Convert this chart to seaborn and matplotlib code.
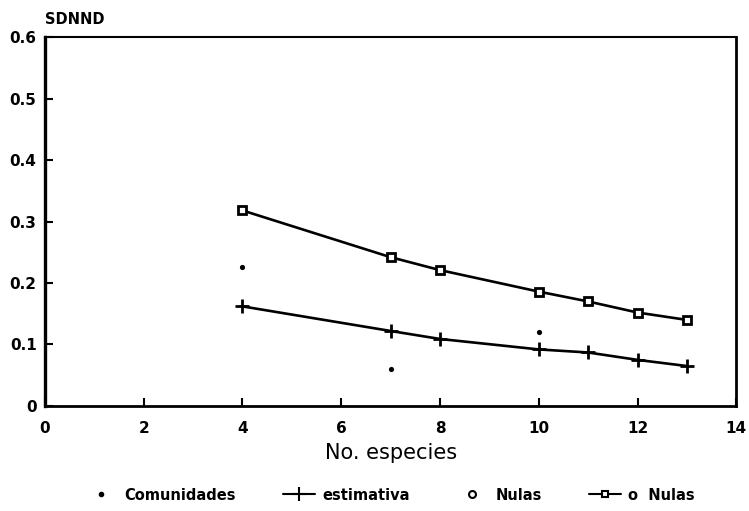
import matplotlib
matplotlib.use('Agg')
import matplotlib.pyplot as plt
import seaborn as sns
from matplotlib.lines import Line2D

species = [4, 7, 8, 10, 11, 12, 13]
nulas = [0.318, 0.242, 0.221, 0.186, 0.170, 0.152, 0.140]
estimativa = [0.162, 0.122, 0.109, 0.092, 0.087, 0.075, 0.065]
com_x = [4, 7, 10]
com_y = [0.226, 0.060, 0.120]
xticks = [0, 2, 4, 6, 8, 10, 12, 14]
yticks = [0, 0.1, 0.2, 0.3, 0.4, 0.5, 0.6]
ytick_labels = ['0', '0.1', '0.2', '0.3', '0.4', '0.5', '0.6']
legend_labels = ['Comunidades', 'estimativa', 'Nulas', 'o  Nulas']

sns.set_style('ticks')
plt.rcParams['font.family'] = ['DejaVu Sans']
plt.rcParams['text.color'] = 'black'

fig = plt.figure(figsize=(7.49, 5.11), dpi=100)
ax = fig.add_axes([0.060, 0.2055, 0.923, 0.722])

sns.lineplot(x=species, y=nulas, ax=ax, color='black', lw=1.9,
             marker='s', markersize=6, markerfacecolor='white',
             markeredgecolor='black', markeredgewidth=2)
sns.lineplot(x=species, y=estimativa, ax=ax, color='black', lw=1.9,
             marker='+', markersize=10, markeredgewidth=2,
             markeredgecolor='black')
sns.scatterplot(x=com_x, y=com_y, ax=ax, color='black', s=14, linewidth=0)

ax.set_xlim(0, 14)
ax.set_ylim(0, 0.6)
ax.set_xticks(xticks)
ax.set_xticklabels([str(t) for t in xticks], fontsize=11, fontweight='bold')
ax.set_yticks(yticks)
ax.set_yticklabels(ytick_labels, fontsize=11, fontweight='bold')
ax.tick_params(axis='x', direction='in', length=6, width=1.5, pad=11, colors='black')
ax.tick_params(axis='y', direction='in', length=6, width=1.5, pad=6, colors='black')
for side, w in [('left', 2.4), ('bottom', 2.0), ('right', 2.0), ('top', 1.5)]:
    ax.spines[side].set_visible(True)
    ax.spines[side].set_linewidth(w)
    ax.spines[side].set_color('black')

ax.set_xlabel('No. especies', fontsize=15, labelpad=5, color='black')
ax.set_ylabel('')
fig.text(45 / 749, 1 - 19 / 511, 'SDNND', ha='left', va='center',
         fontsize=10.5, fontweight='bold', color='black')

handles = [
    Line2D([], [], ls='none', marker='o', ms=3, color='black'),
    Line2D([], [], ls='-', lw=1.5, marker='+', ms=10, mew=1.5, color='black'),
    Line2D([], [], ls='none', marker='o', ms=5, mfc='white', mec='black', mew=1.5),
    Line2D([], [], ls='-', lw=1.5, marker='s', ms=5, mfc='white', mec='black', mew=1.5, color='black'),
]
fig.legend(handles, legend_labels, loc='center', bbox_to_anchor=(390 / 749, 1 - 495 / 511),
           ncol=4, frameon=False, prop={'size': 10.5, 'weight': 'bold'},
           columnspacing=3.2, handlelength=2.2, handletextpad=0.5)

fig.savefig('out.png', dpi=100)
